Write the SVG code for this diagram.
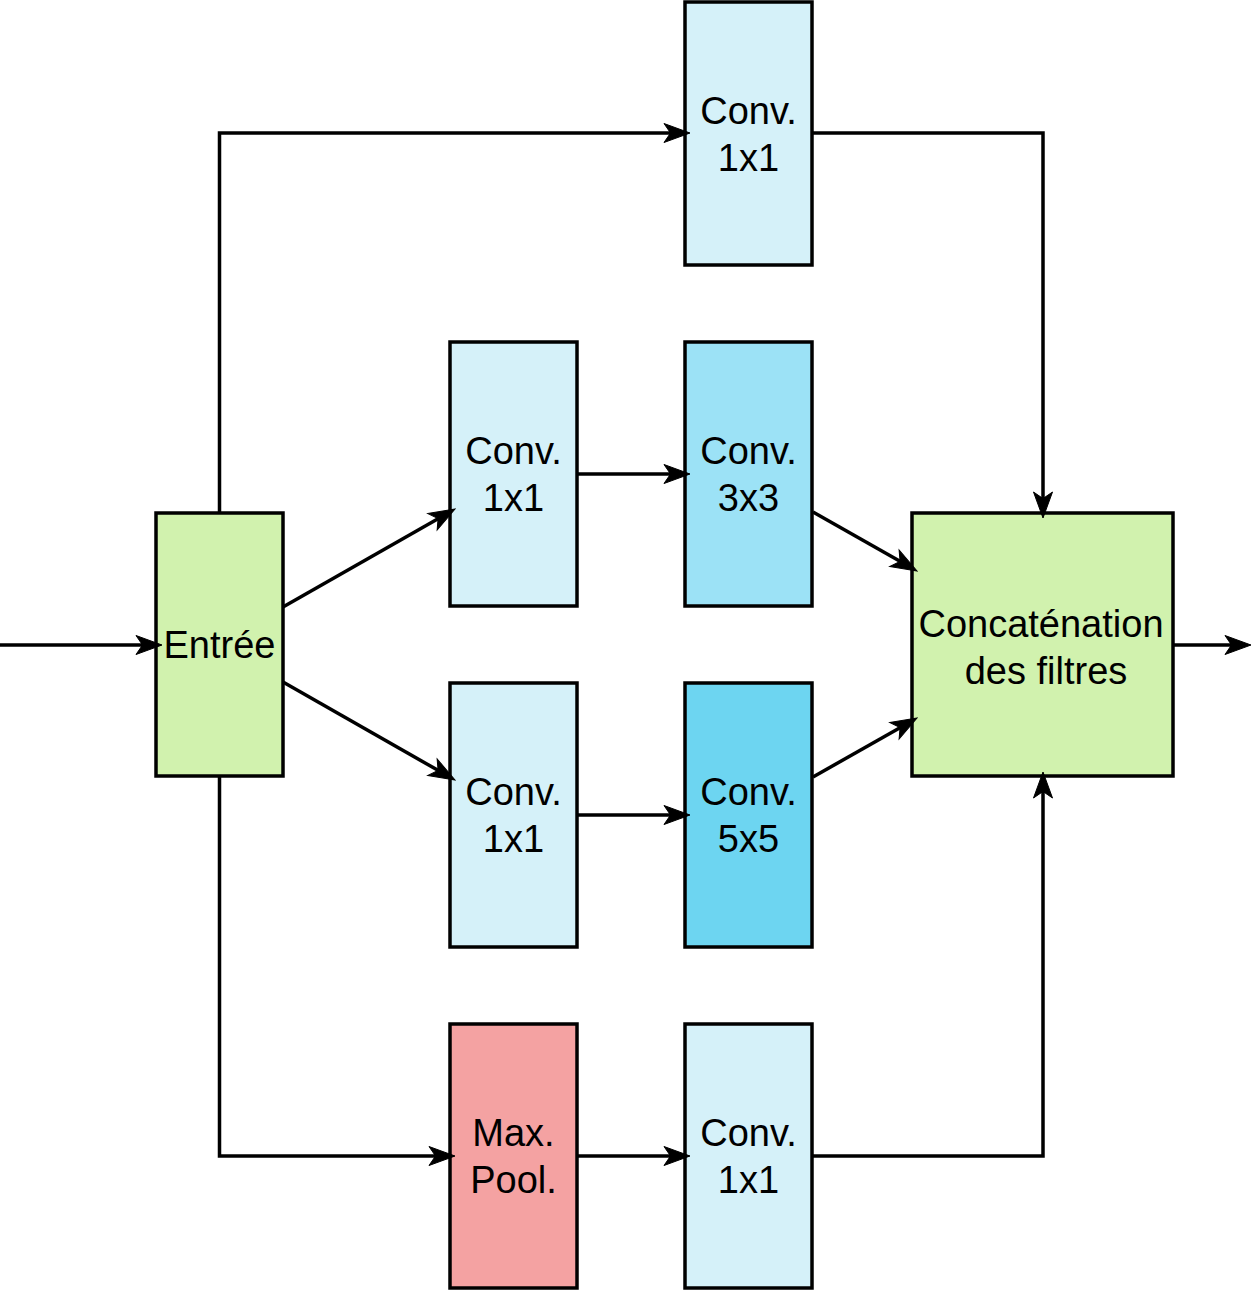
<svg xmlns="http://www.w3.org/2000/svg" width="1251" height="1290" viewBox="0 0 1251 1290">
<style>
.box{stroke:#000;stroke-width:3.5}
.c11{fill:#d5f1f9}
.c33{fill:#9ce2f6}
.c55{fill:#6dd5f1}
.pool{fill:#f4a2a2}
.green{fill:#d1f2ae}
.lbl{font-family:"Liberation Sans",Arial,sans-serif;font-size:38px;fill:#000;text-anchor:middle}
.edge{fill:none;stroke:#000;stroke-width:3.5;marker-end:url(#arr)}
</style>
<defs>
<marker id="arr" markerUnits="userSpaceOnUse" viewBox="-28 -12 29 24" markerWidth="29" markerHeight="24" refX="-12" refY="0" orient="auto">
<path d="M0,0 L-26,-9.5 L-19.5,0 L-26,9.5 Z" fill="#000" stroke="#000" stroke-width="1"/>
</marker>
</defs>
<g id="entree">
<rect class="box green" x="156" y="513" width="127" height="263"/>
<text class="lbl" x="219.5" y="658">Entrée</text>
</g>
<g id="conv1x1_top">
<rect class="box c11" x="685" y="2" width="127" height="263"/>
<text class="lbl" x="748.5" y="123.5">Conv.</text>
<text class="lbl" x="748.5" y="170.5">1x1</text>
</g>
<g id="conv1x1_a">
<rect class="box c11" x="450" y="342" width="127" height="264"/>
<text class="lbl" x="513.5" y="464">Conv.</text>
<text class="lbl" x="513.5" y="511">1x1</text>
</g>
<g id="conv3x3">
<rect class="box c33" x="685" y="342" width="127" height="264"/>
<text class="lbl" x="748.5" y="464">Conv.</text>
<text class="lbl" x="748.5" y="511">3x3</text>
</g>
<g id="conv1x1_b">
<rect class="box c11" x="450" y="683" width="127" height="264"/>
<text class="lbl" x="513.5" y="805">Conv.</text>
<text class="lbl" x="513.5" y="852">1x1</text>
</g>
<g id="conv5x5">
<rect class="box c55" x="685" y="683" width="127" height="264"/>
<text class="lbl" x="748.5" y="805">Conv.</text>
<text class="lbl" x="748.5" y="852">5x5</text>
</g>
<g id="maxpool">
<rect class="box pool" x="450" y="1024" width="127" height="264"/>
<text class="lbl" x="513.5" y="1146">Max.</text>
<text class="lbl" x="513.5" y="1193">Pool.</text>
</g>
<g id="conv1x1_c">
<rect class="box c11" x="685" y="1024" width="127" height="264"/>
<text class="lbl" x="748.5" y="1146">Conv.</text>
<text class="lbl" x="748.5" y="1193">1x1</text>
</g>
<g id="concat">
<rect class="box green" x="912" y="513" width="261" height="263"/>
<text class="lbl" x="1041" y="637">Concaténation</text>
<text class="lbl" x="1046" y="684">des filtres</text>
</g>
<g id="connectors">
<path class="edge" d="M0,645 H150"/>
<path class="edge" d="M219.5,513 V133 H678"/>
<path class="edge" d="M812,133 H1043 V506"/>
<path class="edge" d="M283,607 L444.6,514.9"/>
<path class="edge" d="M283,682 L444.6,774.1"/>
<path class="edge" d="M577,474 H678"/>
<path class="edge" d="M577,815 H678"/>
<path class="edge" d="M813,512 L906.6,565.1"/>
<path class="edge" d="M813,777 L906.6,723.9"/>
<path class="edge" d="M219.5,776 V1156 H443"/>
<path class="edge" d="M577,1156 H678"/>
<path class="edge" d="M812,1156 H1043 V784"/>
<path class="edge" d="M1173,645 H1239"/>
</g>
</svg>
